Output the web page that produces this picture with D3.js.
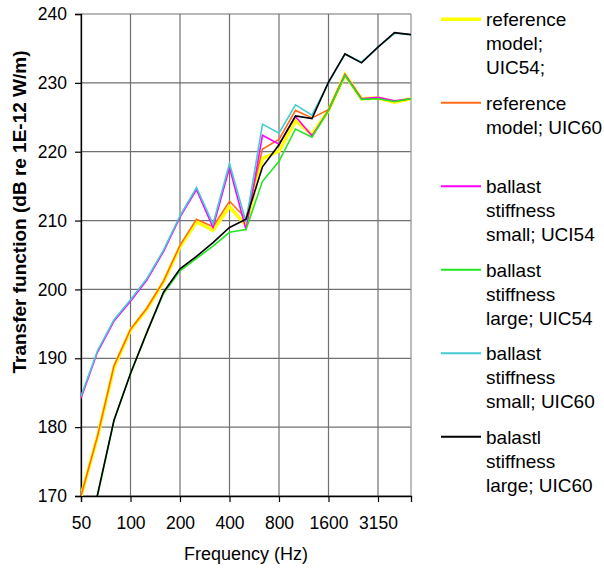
<!DOCTYPE html>
<html>
<head>
<meta charset="utf-8">
<script src="https://cdn.jsdelivr.net/npm/d3@7"></script>
<style>
  html, body { margin: 0; padding: 0; background: #fff; }
  svg { display: block; font-family: "Liberation Sans", Arial, sans-serif; }
</style>
</head>
<body>
<svg id="chart" width="604" height="568"></svg>
<script>
// 1/3-octave band centre frequencies (Hz)
const frequencies = ["50","63","80","100","125","160","200","250","315","400","500",
                     "630","800","1000","1250","1600","2000","2500","3150","4000","5000"];
const xTickLabels = ["50","100","200","400","800","1600","3150"];
const yTicks = [170,180,190,200,210,220,230,240];

// Transfer function levels, dB re 1E-12 W/m
const refUIC54 = [170.0,178.6,188.7,194.1,197.2,201.1,206.2,209.8,208.6,212.0,209.3,
                  219.0,220.1,224.5,222.5,226.0,231.2,227.7,227.8,227.2,227.7];
const refUIC60 = [170.0,178.7,188.9,194.2,197.3,201.2,206.4,210.2,209.1,212.8,210.3,
                  220.4,221.8,226.0,224.9,226.1,231.2,227.7,227.8,227.3,227.7];
const smallUIC54 = [184.2,190.9,195.4,198.3,201.4,205.5,210.5,214.5,209.0,217.7,208.7,
                    222.4,221.1,225.1,222.3,226.0,231.2,227.7,227.9,227.4,227.7];
const largeUIC54 = [161.0,170.0,181.0,187.8,193.8,199.4,202.7,204.5,206.3,208.3,208.7,
                    215.7,218.6,223.3,222.1,226.0,231.1,227.6,227.7,227.3,227.7];
const smallUIC60 = [184.5,191.1,195.6,198.5,201.6,205.7,210.7,214.8,209.5,218.3,209.8,
                    224.0,222.7,226.8,225.3,230.0,234.2,233.0,235.2,237.2,237.0];
const largeUIC60 = [161.0,170.2,181.0,187.8,193.8,199.6,203.0,204.8,206.8,209.0,210.2,
                    217.8,221.0,225.2,224.8,230.1,234.2,232.9,235.2,237.3,237.0];

const seriesNames = [
  ["reference","model;","UIC54;"],
  ["reference","model; UIC60"],
  ["ballast","stiffness","small; UCI54"],
  ["ballast","stiffness","large; UIC54"],
  ["ballast","stiffness","small; UIC60"],
  ["balastl","stiffness","large; UIC60"]
];
const seriesValues = [refUIC54, refUIC60, smallUIC54, largeUIC54, smallUIC60, largeUIC60];
const seriesColors = ["#ffff00","#ff6a1a","#ff00ff","#22e622","#45cad2","#000000"];
const seriesWidths = [3.5, 1.6, 1.6, 1.6, 1.6, 1.6];

const svg = d3.select("#chart");
const plot = {left: 81, right: 411, top: 14, bottom: 496};

const x = d3.scalePoint().domain(frequencies).range([plot.left, plot.right]).padding(0);
const y = d3.scaleLinear().domain([170, 240]).range([plot.bottom, plot.top]);

// gridlines
const grid = svg.append("g").attr("stroke", "#707070").attr("stroke-width", 1.2);
yTicks.forEach(v => {
  grid.append("line").attr("x1", plot.left).attr("x2", plot.right)
      .attr("y1", y(v)).attr("y2", y(v));
});
xTickLabels.forEach(f => {
  grid.append("line").attr("x1", x(f)).attr("x2", x(f))
      .attr("y1", plot.top).attr("y2", plot.bottom);
});
grid.append("line").attr("x1", plot.right).attr("x2", plot.right)
    .attr("y1", plot.top).attr("y2", plot.bottom).attr("stroke", "#909090");

// axes
const yAxis = svg.append("g").attr("transform", `translate(${plot.left},0)`)
  .call(d3.axisLeft(y).tickValues(yTicks).tickSize(6).tickPadding(8));
const xAxis = svg.append("g").attr("transform", `translate(0,${plot.bottom})`)
  .call(d3.axisBottom(x).tickValues(xTickLabels).tickSize(6).tickPadding(16));
[yAxis, xAxis].forEach(g => {
  g.select(".domain").attr("stroke", "#000").attr("stroke-width", 1.3);
  g.selectAll(".tick line").attr("stroke", "#000").attr("stroke-width", 1.2);
  g.selectAll(".tick text").attr("font-size", 17.5).attr("fill", "#000")
   .attr("font-family", "Liberation Sans, Arial, sans-serif");
});
xAxis.selectAll(".tick text").attr("dy", "0.35em").attr("y", 27);

// axis titles
svg.append("text").attr("x", (plot.left + plot.right) / 2).attr("y", 560)
  .attr("text-anchor", "middle").attr("font-size", 18).text("Frequency (Hz)");
svg.append("text").attr("transform", "translate(25.5,212) rotate(-90)")
  .attr("text-anchor", "middle").attr("font-size", 19).attr("font-weight", "bold")
  .text("Transfer function (dB re 1E-12 W/m)");

// series lines, clipped to the plot area
svg.append("clipPath").attr("id", "plotClip").append("rect")
  .attr("x", plot.left).attr("y", plot.top)
  .attr("width", plot.right - plot.left).attr("height", plot.bottom - plot.top);
const line = d3.line().x((d, i) => x(frequencies[i])).y(d => y(d));
const lines = svg.append("g").attr("clip-path", "url(#plotClip)");
seriesValues.forEach((vals, k) => {
  lines.append("path").datum(vals).attr("d", line).attr("fill", "none")
    .attr("stroke", seriesColors[k]).attr("stroke-width", seriesWidths[k])
    .attr("stroke-linejoin", "miter");
});

// legend
const legend = svg.append("g");
seriesNames.forEach((lbl, k) => {
  const ly = 19.3 + k * 83.5;
  legend.append("line").attr("x1", 441).attr("x2", 481).attr("y1", ly).attr("y2", ly)
    .attr("stroke", seriesColors[k]).attr("stroke-width", k === 0 ? 3.5 : 2);
  const t = legend.append("text").attr("x", 486).attr("y", ly + 6.7).attr("font-size", 19);
  lbl.forEach((s, j) => {
    t.append("tspan").attr("x", 486).attr("dy", j === 0 ? 0 : 24).text(s);
  });
});
</script>
</body>
</html>
